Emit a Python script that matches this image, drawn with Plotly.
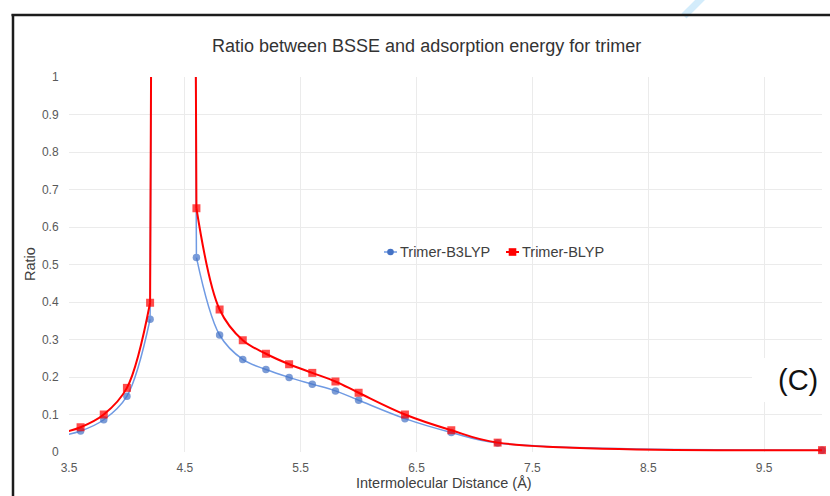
import plotly.graph_objects as go

# ---------------- data ----------------
distance = [3.4, 3.6, 3.8, 4.0, 4.2, 4.4, 4.6, 4.8, 5.0, 5.2, 5.4, 5.6, 5.8, 6.0, 6.4, 6.8, 7.2, 10.0]
trimer_b3lyp = [0.041, 0.056, 0.086, 0.149, 0.354, 15.0, 0.519, 0.312, 0.247, 0.220, 0.199, 0.181, 0.163, 0.138, 0.089, 0.052, 0.024, 0.005]
trimer_blyp = [0.048, 0.066, 0.100, 0.171, 0.398, 15.0, 0.650, 0.380, 0.298, 0.262, 0.234, 0.211, 0.188, 0.158, 0.100, 0.058, 0.025, 0.005]
series_names = ["Trimer-B3LYP", "Trimer-BLYP"]
x_ticks = [3.5, 4.5, 5.5, 6.5, 7.5, 8.5, 9.5]
y_ticks = [0, 0.1, 0.2, 0.3, 0.4, 0.5, 0.6, 0.7, 0.8, 0.9, 1]
title_text = "Ratio between BSSE and adsorption energy for trimer"
x_title = "Intermolecular Distance (Å)"
y_title = "Ratio"
panel_label = "(C)"

# ---------------- geometry ----------------
W, H = 830, 496
L, R, T, B = 69, 8, 77, 44
PW = W - L - R
PH = H - T - B
X_RANGE = [3.5, 10.0]
Y_RANGE = [0, 1]


def px(x):
    return (x - L) / PW


def py(y):
    return (H - B - y) / PH


FONT = "Liberation Sans, Arial, sans-serif"
BLUE_LINE = "#6f9ae3"
BLUE_MARK = "#4472C4"
RED = "#FF0000"


def sizes(xs, ys, s):
    return [s if (X_RANGE[0] <= x <= X_RANGE[1] and Y_RANGE[0] <= y <= Y_RANGE[1]) else 0
            for x, y in zip(xs, ys)]


def add_series(fig, xs, ys, name, line_color, line_width, mark_color, symbol, msize):
    # smooth pieces on each side of the off-scale (singular) value
    y_split = [y if y <= Y_RANGE[1] else None for y in ys]
    fig.add_trace(go.Scatter(
        x=xs, y=y_split, name=name, mode="lines+markers", connectgaps=False,
        line=dict(color=line_color, width=line_width, shape="spline", smoothing=1),
        marker=dict(symbol=symbol, size=sizes(xs, ys, msize), color=mark_color,
                    line=dict(width=0)),
        cliponaxis=False, showlegend=False,
    ))
    # the branch running off the top of the axis through the off-scale value
    for i, y in enumerate(ys):
        if y > Y_RANGE[1]:
            fig.add_trace(go.Scatter(
                x=xs[i - 1:i + 2], y=ys[i - 1:i + 2], mode="lines",
                line=dict(color=line_color, width=line_width),
                showlegend=False, hoverinfo="skip",
            ))


fig = go.Figure()
add_series(fig, distance, trimer_b3lyp, series_names[0], BLUE_LINE, 1.5, BLUE_MARK, "circle", 7.5)
add_series(fig, distance, trimer_blyp, series_names[1], RED, 2, RED, "square", 8)

shapes = []
# light blue stroke (paper background artefact) and black frame
shapes.append(dict(type="line", xref="paper", yref="paper",
                   x0=px(703), y0=py(-3), x1=px(684), y1=py(16),
                   line=dict(color="#d3ecfb", width=7), layer="above"))
shapes.append(dict(type="line", xref="paper", yref="paper",
                   x0=px(11.5), y0=py(15), x1=px(840), y1=py(15),
                   line=dict(color="#1c1c1c", width=2.5), layer="above"))
shapes.append(dict(type="line", xref="paper", yref="paper",
                   x0=px(13), y0=py(14), x1=px(13), y1=py(505),
                   line=dict(color="#1c1c1c", width=2.5), layer="above"))
# white box behind panel label
shapes.append(dict(type="rect", xref="paper", yref="paper",
                   x0=px(752), y0=py(402), x1=px(835), y1=py(358),
                   fillcolor="white", line=dict(width=0), layer="above"))

# custom legend
leg_y = 252
leg_items = [
    (384, 397, 390.5, "circle", BLUE_LINE, BLUE_MARK, 1.5, 3.3, 398),
    (506, 519, 512.5, "rect", RED, RED, 2, 3.8, 520),
]
annotations = []
for i, (lx0, lx1, mx, kind, lc, mc, lw, r, tx) in enumerate(leg_items):
    shapes.append(dict(type="line", xref="paper", yref="paper",
                       x0=px(lx0), x1=px(lx1), y0=py(leg_y), y1=py(leg_y),
                       line=dict(color=lc, width=lw), layer="above"))
    shapes.append(dict(type=kind, xref="paper", yref="paper",
                       xsizemode="pixel", ysizemode="pixel",
                       xanchor=px(mx), yanchor=py(leg_y),
                       x0=-r, x1=r, y0=-r, y1=r,
                       fillcolor=mc, line=dict(width=0), layer="above"))
    annotations.append(dict(text=series_names[i], xref="paper", yref="paper",
                            x=px(tx), y=py(leg_y), xanchor="left", yanchor="middle",
                            showarrow=False, font=dict(family=FONT, size=14.5, color="#404040")))

annotations += [
    dict(text=title_text, xref="paper", yref="paper", x=px(426.5), y=py(46),
         xanchor="center", yanchor="middle", showarrow=False,
         font=dict(family=FONT, size=18, color="#333333")),
    dict(text=x_title, xref="paper", yref="paper", x=px(444), y=py(483),
         xanchor="center", yanchor="middle", showarrow=False,
         font=dict(family=FONT, size=14.5, color="#404040")),
    dict(text=y_title, xref="paper", yref="paper", x=px(30), y=py(264),
         xanchor="center", yanchor="middle", showarrow=False, textangle=-90,
         font=dict(family=FONT, size=14.5, color="#404040")),
    dict(text=panel_label, xref="paper", yref="paper", x=px(797.5), y=py(380),
         xanchor="center", yanchor="middle", showarrow=False,
         font=dict(family=FONT, size=29, color="#111111")),
]

fig.update_layout(
    width=W, height=H,
    margin=dict(l=L, r=R, t=T, b=B, pad=0),
    paper_bgcolor="white", plot_bgcolor="white",
    font=dict(family=FONT, color="#595959"),
    showlegend=False,
    shapes=shapes,
    annotations=annotations,
    xaxis=dict(range=X_RANGE, tickvals=x_ticks, ticktext=[str(v) for v in x_ticks],
               showgrid=True, gridcolor="#ebebeb", gridwidth=1, zeroline=False,
               showline=False, ticks="outside", ticklen=5, tickcolor="rgba(0,0,0,0)",
               tickfont=dict(family=FONT, size=12, color="#595959"), fixedrange=True),
    yaxis=dict(range=Y_RANGE, tickvals=y_ticks, ticktext=[f"{v:g}" for v in y_ticks],
               showgrid=True, gridcolor="#ebebeb", gridwidth=1, zeroline=False,
               showline=False, ticks="outside", ticklen=7, tickcolor="rgba(0,0,0,0)",
               tickfont=dict(family=FONT, size=12, color="#595959"), fixedrange=True),
)

fig.write_html("out.html", config={"displayModeBar": False},
               post_script="document.body.style.margin='0';document.body.style.overflow='hidden';")
